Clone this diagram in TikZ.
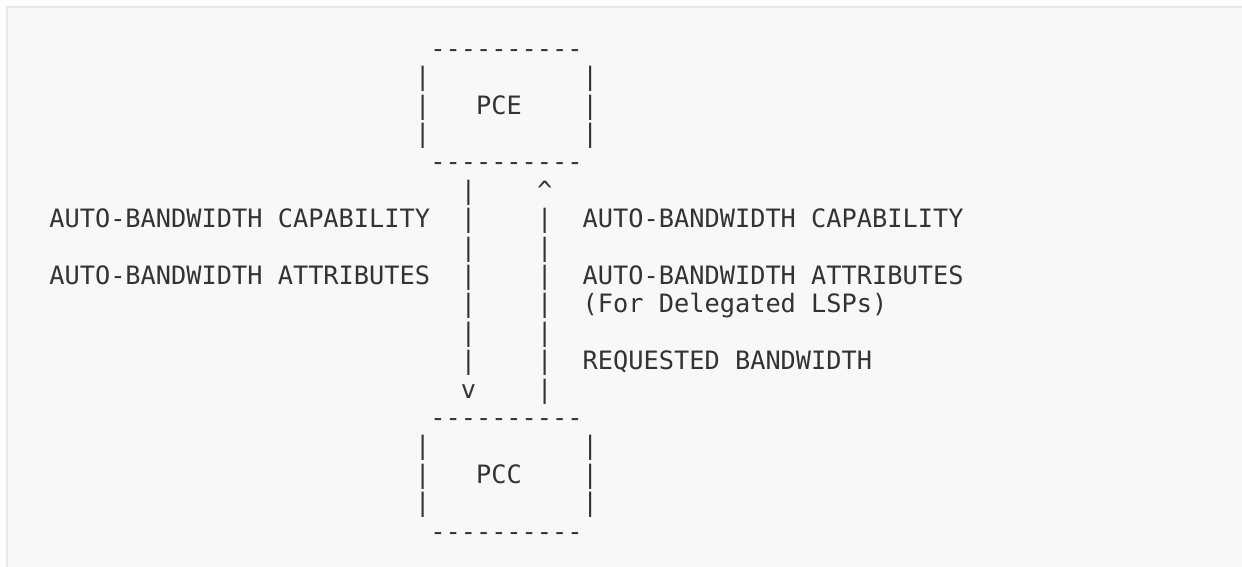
\documentclass[tikz,border=0pt]{standalone}
\usepackage{fontspec}
\setmonofont{DejaVu Sans Mono}
\definecolor{ink}{HTML}{333333}
\definecolor{panel}{HTML}{F8F8F8}
\definecolor{panelline}{HTML}{E8E8E8}
\newcommand\dashrow{-{}-{}-{}-{}-{}-{}-{}-{}-{}-}
\begin{document}
\begin{tikzpicture}[x=1pt,y=-1pt,
  ascii/.style={anchor=base west, inner sep=0pt, outer sep=0pt, text=ink,
    font=\ttfamily\fontsize{25.3}{28}\selectfont}]
\useasboundingbox (0,0) rectangle (1242,566);
\fill[panel] (7,7) rectangle (1250,575);
\draw[panelline, line width=1.5pt] (7,580) -- (7,7) -- (1250,7);
\newcommand\cell[4]{\node[ascii] (#1) at ({415.1+(#2)*15.24},{57.2+28.4*(#3)}) {#4};}
% PCE box
\cell{pceTop}{1}{0}{\dashrow}
\foreach \r in {1,2,3}{\cell{pceL\r}{0}{\r}{|}\cell{pceR\r}{11}{\r}{|}}
\cell{pce}{4}{2}{PCE}
\cell{pceBot}{1}{4}{\dashrow}
% down connector (PCE -> PCC)
\foreach \r in {5,...,11}{\cell{down\r}{3}{\r}{|}}
\cell{downTip}{3}{12}{v}
% up connector (PCC -> PCE)
\cell{upTip}{8}{5}{\textasciicircum}
\foreach \r in {6,...,12}{\cell{up\r}{8}{\r}{|}}
% left labels
\cell{lcap}{-24}{6}{AUTO-BANDWIDTH CAPABILITY}
\cell{lattr}{-24}{8}{AUTO-BANDWIDTH ATTRIBUTES}
% right labels
\cell{rcap}{11}{6}{AUTO-BANDWIDTH CAPABILITY}
\cell{rattr}{11}{8}{AUTO-BANDWIDTH ATTRIBUTES}
\cell{rdeleg}{11}{9}{(For Delegated LSPs)}
\cell{rreq}{11}{11}{REQUESTED BANDWIDTH}
% PCC box
\cell{pccTop}{1}{13}{\dashrow}
\foreach \r in {14,15,16}{\cell{pccL\r}{0}{\r}{|}\cell{pccR\r}{11}{\r}{|}}
\cell{pcc}{4}{15}{PCC}
\cell{pccBot}{1}{17}{\dashrow}
\end{tikzpicture}
\end{document}
